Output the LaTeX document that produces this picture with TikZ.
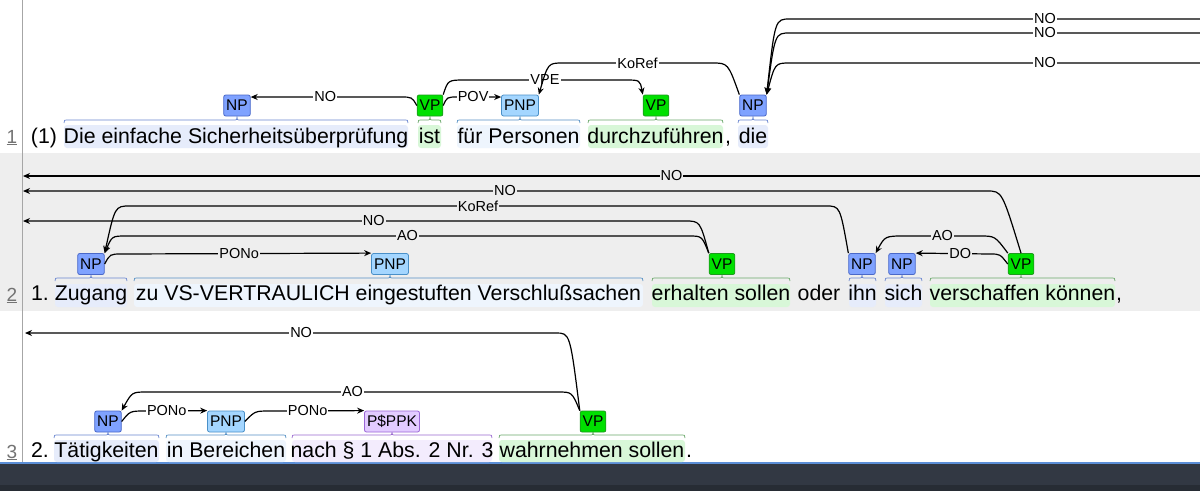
\documentclass[tikz,border=0pt]{standalone}
\usepackage{fontspec}
\setmainfont{Liberation Sans}
\definecolor{npc}{HTML}{7FA2FF}\definecolor{npd}{HTML}{4A68C8}
\definecolor{vpc}{HTML}{00E000}\definecolor{vpd}{HTML}{1E9A1E}
\definecolor{pnpc}{HTML}{A4D6FF}\definecolor{pnpd}{HTML}{4A90C8}
\definecolor{ppkc}{HTML}{E2CBFF}\definecolor{ppkd}{HTML}{9A66D6}
\definecolor{npbg}{HTML}{E6ECFB}\definecolor{vpbg}{HTML}{D8F7D8}
\definecolor{pnpbg}{HTML}{EEF5FD}\definecolor{ppkbg}{HTML}{F3ECFD}
\definecolor{rowg}{HTML}{EEEEEE}
\definecolor{npbr}{HTML}{6A86D0}\definecolor{vpbr}{HTML}{6AA86A}
\definecolor{pnpbr}{HTML}{5590C4}\definecolor{ppkbr}{HTML}{9A6AD0}
\definecolor{barA}{HTML}{323843}\definecolor{barB}{HTML}{272C34}\definecolor{barL}{HTML}{5B8ED6}
\usetikzlibrary{arrows.meta}
\newcommand\spanbrace[5]{% color, x1, x2, center, ybottom
  \draw[#1, line width=0.7pt] (#2,#5) .. controls (#2,#5-3) .. (#2+5,#5-3) -- (#4-4,#5-3) .. controls (#4,#5-3) .. (#4,#5-6) .. controls (#4,#5-3) .. (#4+4,#5-3) -- (#3-5,#5-3) .. controls (#3,#5-3) .. (#3,#5);}
\begin{document}
\begin{tikzpicture}[x=1pt,y=-1pt,
  lbl/.style={font=\fontsize{15.5}{15}\selectfont, inner xsep=2.5pt, inner ysep=0pt, minimum height=21pt, rounded corners=2pt, line width=0.8pt},
  NP/.style={lbl, fill=npc, draw=npd},
  VP/.style={lbl, fill=vpc, draw=vpd},
  PNP/.style={lbl, fill=pnpc, draw=pnpd},
  PPK/.style={lbl, fill=ppkc, draw=ppkd},
  wt/.style={font=\fontsize{21.3}{22}\selectfont, inner sep=0pt, anchor=base},
  ln/.style={font=\fontsize{19}{20}\selectfont, inner sep=0pt, anchor=base, text=black!55},
  arc/.style={line width=1.2pt, -{Stealth[length=7pt,width=6pt]}},
  al/.style={font=\fontsize{14.5}{14}\selectfont, fill=white, inner sep=1pt},
  alg/.style={al, fill=rowg}]
\useasboundingbox (0,0) rectangle (1200,491);
\fill[white] (0,0) rectangle (1200,491);
\fill[rowg] (0,153) rectangle (1200,311);
\fill[barA] (0,462) rectangle (1200,491);
\fill[barB] (0,485) rectangle (1200,491);
\fill[barL] (0,461.5) rectangle (1200,463.5);
\draw[black!35, line width=0.8pt] (22.5,0) -- (22.5,461.5);

% ---- Row 1 ----
\fill[npbg, rounded corners=3pt] (64,125) rectangle (408,148);
\fill[vpbg, rounded corners=3pt] (418,125) rectangle (441,148);
\fill[pnpbg, rounded corners=3pt] (457,125) rectangle (580,148);
\fill[vpbg, rounded corners=3pt] (588,125) rectangle (723,148);
\fill[npbg, rounded corners=3pt] (738,125) rectangle (768,148);
\node[ln] (n1) at (12,143) {\underline{1}};
\node[wt] (t11) at (44,143) {(1)};
\node[wt] (t12) at (236,143) {Die einfache Sicherheitsüberprüfung};
\node[wt] (t13) at (429.5,143) {ist};
\node[wt] (t14) at (518.5,143) {für Personen};
\node[wt] (t15) at (655.5,143) {durchzuführen};
\node[wt] (t15c) at (728,143) {,};
\node[wt] (t16) at (753,143) {die};
\spanbrace{npbr}{64}{408}{237}{123}
\spanbrace{vpbr}{418}{441}{430}{123}
\spanbrace{pnpbr}{457}{580}{520}{123}
\spanbrace{vpbr}{588}{723}{656}{123}
\spanbrace{npbr}{738}{768}{753}{123}
\node[NP] (np1) at (237,105.5) {NP};
\node[VP] (vp1) at (430,105.5) {VP};
\node[PNP] (pnp1) at (520,105.5) {PNP};
\node[VP] (vp2) at (656,105.5) {VP};
\node[NP] (np2) at (753,105.5) {NP};
\draw[arc] (vp1.west) .. controls (412,97) .. (400,97) -- node[al]{NO} (np1.east|-0,97);
\draw[arc] (vp1.east) .. controls (447,97) .. (458,97) -- node[al,pos=0.35]{POV} (pnp1.north west|-0,97);
\draw[arc] (vp1.north east) .. controls (448,80) .. (465,80) -- node[al]{VPE} (625,80) .. controls (640,80) .. (vp2.north west);
\draw[arc] (np2.north west) .. controls (728,63) .. (712,63) -- node[al]{KoRef} (563,63) .. controls (548,63) .. (pnp1.north east);
\coordinate (e1) at (1200,19);
\coordinate (e2) at (1200,33);
\coordinate (e3) at (1200,63);
\draw[arc] (e1) -- node[al,pos=0.378]{NO} (790,19) .. controls (775,19) .. (np2.north east);
\draw[arc] (e2) -- node[al,pos=0.378]{NO} (790,33) .. controls (775,33) .. (np2.north east);
\draw[arc] (e3) -- node[al,pos=0.378]{NO} (790,63) .. controls (775,63) .. (np2.north east);

% ---- Row 2 ----
\fill[npbg, rounded corners=3pt] (55,284) rectangle (127,307);
\fill[pnpbg, rounded corners=3pt] (134,284) rectangle (643,307);
\fill[vpbg, rounded corners=3pt] (652,284) rectangle (790,307);
\fill[npbg, rounded corners=3pt] (849,284) rectangle (876,307);
\fill[npbg, rounded corners=3pt] (885,284) rectangle (922,307);
\fill[vpbg, rounded corners=3pt] (930,284) rectangle (1115,307);
\node[ln] (n2) at (12,301) {\underline{2}};
\node[wt] (t21) at (40,300) {1.};
\node[wt] (t22) at (91,300) {Zugang};
\node[wt] (t23) at (388.5,300) {zu VS-VERTRAULICH eingestuften Verschlußsachen};
\node[wt] (t24) at (721,300) {erhalten sollen};
\node[wt] (t25) at (819,300) {oder};
\node[wt] (t26) at (862.5,300) {ihn};
\node[wt] (t27) at (903.5,300) {sich};
\node[wt] (t28) at (1022.5,300) {verschaffen können};
\node[wt] (t28c) at (1119,300) {,};
\spanbrace{npbr}{55}{127}{91}{281}
\spanbrace{pnpbr}{134}{643}{390}{281}
\spanbrace{vpbr}{652}{790}{722}{281}
\spanbrace{npbr}{849}{876}{862}{281}
\spanbrace{npbr}{885}{922}{902}{281}
\spanbrace{vpbr}{930}{1115}{1021}{281}
\node[NP] (np0) at (91,264) {NP};
\node[PNP] (pnp2) at (390,264) {PNP};
\node[VP] (vp3) at (722,264) {VP};
\node[NP] (np3) at (862,264) {NP};
\node[NP] (np4) at (902,264) {NP};
\node[VP] (vp4) at (1021,264) {VP};
\coordinate (r2a) at (1200,176);
\coordinate (l2a) at (23,176);
\coordinate (l2b) at (23,191);
\coordinate (l2c) at (23,221);
\draw[arc] (r2a) -- node[alg,pos=0.449]{NO} (l2a);
\draw[arc] (vp4.north) .. controls (1002,191) .. (987,191) -- node[alg]{NO} (l2b);
\draw[arc] (np3.north west) .. controls (840,206) .. (826,206) -- node[alg]{KoRef} (130,206) .. controls (115,206) .. (np0.north east);
\draw[arc] (vp3.north west) .. controls (700,221) .. (685,221) -- node[alg,pos=0.47]{NO} (l2c);
\draw[arc] (vp3.north west) .. controls (702,236) .. (689,236) -- node[alg]{AO} (126,236) .. controls (112,236) .. (np0.north east);
\draw[arc] (np0.east) .. controls (110,254) .. (122,254) -- node[alg,pos=0.47]{PONo} (pnp2.north west);
\draw[arc] (vp4.north west) .. controls (995,236) .. (980,236) -- node[alg]{AO} (905,236) .. controls (885,236) .. (np3.north east);
\draw[arc] (vp4.west) .. controls (1000,254) .. (990,254) -- node[alg,pos=0.4]{DO} (np4.north east);

% ---- Row 3 ----
\fill[npbg, rounded corners=3pt] (54,440) rectangle (159,462);
\fill[pnpbg, rounded corners=3pt] (166,440) rectangle (286,462);
\fill[ppkbg, rounded corners=3pt] (292,440) rectangle (492,462);
\fill[vpbg, rounded corners=3pt] (499,440) rectangle (685,462);
\node[ln] (n3) at (12,458) {\underline{3}};
\node[wt] (t31) at (40,457) {2.};
\node[wt] (t32) at (106.5,457) {Tätigkeiten};
\node[wt] (t33) at (226,457) {in Bereichen};
\node[wt] (t34) at (392,457) {nach § 1 Abs. 2 Nr. 3};
\node[wt] (t35) at (592,457) {wahrnehmen sollen};
\node[wt] (t35c) at (689,457) {.};
\spanbrace{npbr}{54}{159}{108}{438}
\spanbrace{pnpbr}{166}{286}{226}{438}
\spanbrace{ppkbr}{292}{492}{392}{438}
\spanbrace{vpbr}{499}{685}{593}{438}
\node[NP] (np5) at (108,421.5) {NP};
\node[PNP] (pnp3) at (226,421.5) {PNP};
\node[PPK] (ppk) at (392,421.5) {P\$PPK};
\node[VP] (vp5) at (593,421.5) {VP};
\coordinate (l3a) at (25,333);
\draw[arc] (vp5.north west) .. controls (570,333) .. (556,333) -- node[al,pos=0.48]{NO} (l3a);
\draw[arc] (vp5.north west) .. controls (572,392) .. (558,392) -- node[al]{AO} (147,392) .. controls (132,392) .. (np5.north east);
\draw[arc] (np5.east) .. controls (130,411) .. (145,411) -- node[al,pos=0.35]{PONo} (pnp3.north west);
\draw[arc] (pnp3.east) .. controls (255,411) .. (270,411) -- node[al,pos=0.4]{PONo} (ppk.north west);
\end{tikzpicture}
\end{document}
